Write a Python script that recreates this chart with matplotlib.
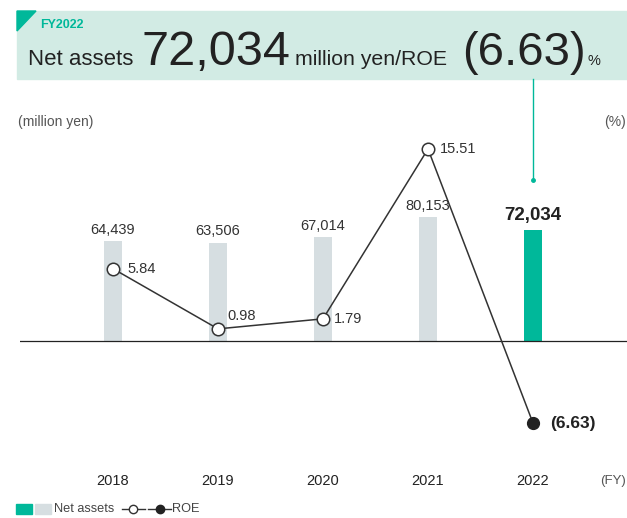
import matplotlib.pyplot as plt
from matplotlib.patches import Rectangle, Polygon
from matplotlib.lines import Line2D

plt.rcParams['font.family'] = ['Liberation Sans', 'DejaVu Sans']

# data
years = ['2018', '2019', '2020', '2021', '2022']
net_assets = [64439, 63506, 67014, 80153, 72034]
roe = [5.84, 0.98, 1.79, 15.51, -6.63]
roe_labels = ['5.84', '0.98', '1.79', '15.51', '(6.63)']

TEAL = '#00b89a'
GRAY = '#d6dee1'
MINT = '#d2ebe4'
TXT = '#333333'

W, H = 627, 518
fig = plt.figure(figsize=(W / 100, H / 100), dpi=100)


def fx(x):
    return x / W


def fy(y):
    return 1 - y / H


# header box
fig.patches.append(Rectangle((fx(17), fy(79)), fx(610), 68 / H, transform=fig.transFigure,
                             color=MINT, zorder=0))
fig.patches.append(Polygon([(fx(17), fy(11)), (fx(36), fy(11)), (fx(17), fy(31))],
                           closed=True, transform=fig.transFigure, color=TEAL, zorder=1))
fig.text(fx(40), fy(25), 'FY2022', color=TEAL, fontsize=9, fontweight='bold', va='center')
fig.text(fx(28), fy(65), 'Net assets', color='#222222', fontsize=16, va='baseline')
fig.text(fx(142), fy(65), '72,034', color='#222222', fontsize=35, va='baseline')
fig.text(fx(295), fy(65), 'million yen/ROE', color='#222222', fontsize=15.3, va='baseline')
fig.text(fx(462), fy(65), '(6.63)', color='#222222', fontsize=34, va='baseline')
fig.text(fx(588), fy(65), '%', color='#222222', fontsize=10.5, va='baseline')

# connector
fig.lines.append(Line2D([fx(533), fx(533)], [fy(79), fy(180)], transform=fig.transFigure,
                        color=TEAL, lw=1))
fig.lines.append(Line2D([fx(533)], [fy(180)], transform=fig.transFigure, marker='o',
                        markersize=2.5, color=TEAL))

# axes: zero of both scales at y=341px
top, bot = 100, 440
ax = fig.add_axes([fx(20), fy(bot), fx(607), (bot - top) / H])
ax2 = ax.twinx()
px_bar = 0.001545
px_roe = 12.38
ax.set_ylim(-(bot - 341) / px_bar, (341 - top) / px_bar)
ax2.set_ylim(-(bot - 341) / px_roe, (341 - top) / px_roe)
x = list(range(len(years)))
ax.set_xlim((20 - 113) / 105, (627 - 113) / 105)

colors = [GRAY] * 4 + [TEAL]
ax.bar(x, net_assets, width=0.17, color=colors, zorder=2)
ax.axhline(0, color='#222222', lw=0.9, zorder=3)
for i, v in enumerate(net_assets):
    if i == 4:
        ax.text(i, v + 3500, f'{v:,}', ha='center', va='bottom', fontsize=13.5,
                fontweight='bold', color='#222222')
    else:
        ax.text(i, v + 3000, f'{v:,}', ha='center', va='bottom', fontsize=10.5, color=TXT)

ax2.plot(x, roe, color='#333333', lw=1.1, zorder=4)
ax2.plot(x[:4], roe[:4], 'o', ms=9, mfc='white', mec='#333333', mew=1.1, zorder=5)
ax2.plot(x[4:], roe[4:], 'o', ms=8.5, color='#222222', zorder=5)
offs = [(0.14, 0.0), (0.09, 1.0), (0.1, 0.0), (0.11, 0.0), (0.16, 0.0)]
for i, (lab, v) in enumerate(zip(roe_labels, roe)):
    dx, dy = offs[i]
    if i == 4:
        ax2.text(i + dx, v + dy, lab, ha='left', va='center', fontsize=12.5,
                 fontweight='bold', color='#222222')
    else:
        ax2.text(i + dx, v + dy, lab, ha='left', va='center', fontsize=10.5, color=TXT)

for a in (ax, ax2):
    a.set_yticks([])
    for s in a.spines.values():
        s.set_visible(False)
ax.set_xticks([])

# year labels
for i, y in enumerate(years):
    ax.text(i, (bot - 481) / (bot - top), y, transform=ax.get_xaxis_transform(),
            ha='center', va='center', fontsize=10.5, color='#222222')
fig.text(fx(600), fy(481), '(FY)', fontsize=9.5, color='#555555', va='center')
fig.text(fx(18), fy(122), '(million yen)', fontsize=10, color='#555555', va='center')
fig.text(fx(604), fy(122), '(%)', fontsize=10, color='#555555', va='center')

# legend
fig.patches.append(Rectangle((fx(16), fy(514)), fx(16), 10 / H, transform=fig.transFigure, color=TEAL))
fig.patches.append(Rectangle((fx(35), fy(514)), fx(16), 10 / H, transform=fig.transFigure, color=GRAY))
fig.text(fx(54), fy(509), 'Net assets', fontsize=9.2, color='#444444', va='center')
fig.lines.append(Line2D([fx(122), fx(145)], [fy(509), fy(509)], transform=fig.transFigure,
                        color='#333333', lw=1))
fig.lines.append(Line2D([fx(133)], [fy(509)], transform=fig.transFigure, marker='o', ms=6,
                        mfc='white', mec='#333333', mew=1))
fig.lines.append(Line2D([fx(148), fx(171)], [fy(509), fy(509)], transform=fig.transFigure,
                        color='#333333', lw=1))
fig.lines.append(Line2D([fx(160)], [fy(509)], transform=fig.transFigure, marker='o', ms=6,
                        color='#222222'))
fig.text(fx(172), fy(509), 'ROE', fontsize=9.2, color='#444444', va='center')

fig.savefig('out.png', dpi=100)
